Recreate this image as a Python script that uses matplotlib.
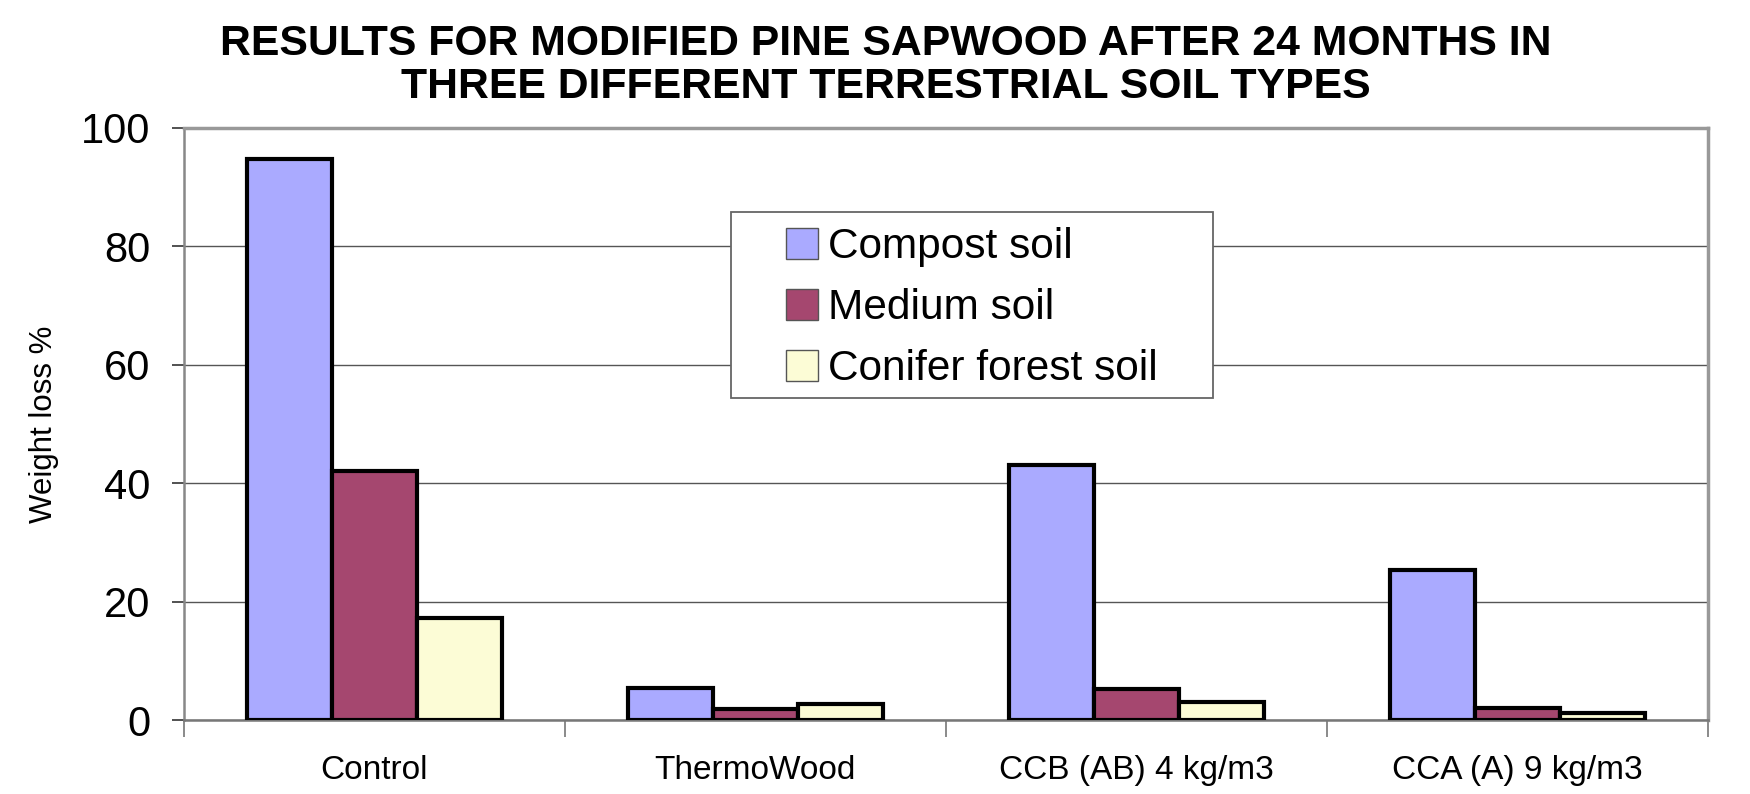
import numpy as np
import matplotlib.pyplot as plt
from matplotlib.patches import Rectangle

plt.rcParams['font.family'] = ['Liberation Sans', 'DejaVu Sans']

# Data
categories = ["Control", "ThermoWood", "CCB (AB) 4 kg/m3", "CCA (A) 9 kg/m3"]
series = ["Compost soil", "Medium soil", "Conifer forest soil"]
compost = [94.8, 5.5, 43.0, 25.3]
medium = [42.0, 1.8, 5.3, 2.0]
conifer = [17.3, 2.8, 3.0, 1.2]
colors = ["#AAAAFF", "#A5476F", "#FCFCD6"]

fig = plt.figure(figsize=(17.5, 7.94), dpi=100)
ax = fig.add_axes([0.105, 0.093, 0.871, 0.746])

x = np.arange(len(categories))
w = 0.223
handles = []
for i, vals in enumerate([compost, medium, conifer]):
    b = ax.bar(x + (i - 1) * w, vals, w, color=colors[i], edgecolor='black',
               linewidth=3.0, zorder=3, label=series[i])
    handles.append(b)

ax.set_xlim(-0.5, len(categories) - 0.5)
ax.set_ylim(0, 100)
ax.set_yticks(np.arange(0, 101, 20))
ax.yaxis.grid(True, color='#555555', linewidth=1.0, zorder=0)
ax.set_axisbelow(True)

ax.set_xticks(x)
ax.set_xticklabels(categories, fontsize=24)
ax.tick_params(axis='x', length=0, pad=25)
ax.set_xticks(np.arange(-0.5, len(categories), 1), minor=True)
ax.tick_params(axis='x', which='minor', length=12, width=1.2, color='#777777', direction='out')
ax.tick_params(axis='y', labelsize=30, length=9, width=1.2, color='#333333', pad=15)

for side in ['top', 'right']:
    ax.spines[side].set_color('#999999')
    ax.spines[side].set_linewidth(2.5)
ax.spines['left'].set_color('#888888')
ax.spines['left'].set_linewidth(1.8)
ax.spines['bottom'].set_color('#777777')
ax.spines['bottom'].set_linewidth(1.8)

ax.set_ylabel("Weight loss %", fontsize=22.5, labelpad=16)

# legend box
ax.add_patch(Rectangle((0.359, 0.544), 0.316, 0.314, transform=ax.transAxes,
                       facecolor='white', edgecolor='#666666', linewidth=1.3, zorder=4))
leg = ax.legend(handles=handles, loc='upper left', bbox_to_anchor=(0.384, 0.861),
                frameon=False, fontsize=30.5, handlelength=0.75, handleheight=0.75,
                handletextpad=0.25, labelspacing=0.5, borderaxespad=0)
leg.set_zorder(5)
for h in leg.legend_handles:
    h.set_edgecolor('#555555')
    h.set_linewidth(1.0)

fig.text(0.506, 0.917, "RESULTS FOR MODIFIED PINE SAPWOOD AFTER 24 MONTHS IN\nTHREE DIFFERENT TERRESTRIAL SOIL TYPES",
         ha='center', va='center', fontsize=30.8, fontweight='bold', linespacing=1.1)

fig.savefig("out.png", dpi=100)
